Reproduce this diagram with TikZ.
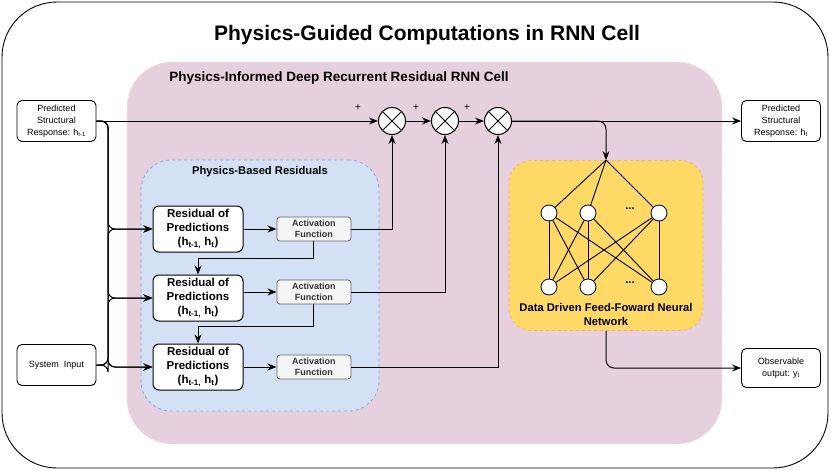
\documentclass[tikz,border=0pt]{standalone}
\usepackage{fontspec}
\setmainfont{Liberation Sans}
\usetikzlibrary{arrows.meta, positioning, backgrounds}
\definecolor{cellPink}{HTML}{E6D0DE}
\definecolor{cellPinkLine}{HTML}{F4E8F0}
\definecolor{resBlue}{HTML}{D4E1F5}
\definecolor{resBlueLine}{HTML}{7EA6E0}
\definecolor{netYellow}{HTML}{FFD966}
\definecolor{netYellowLine}{HTML}{F5AE8C}
\definecolor{actFill}{HTML}{F5F5F5}
\definecolor{actLine}{HTML}{666666}
\definecolor{actText}{HTML}{333333}
\tikzset{
  ioNode/.style={
    draw,
    line width=0.9pt,
    rounded corners=5pt,
    align=center,
    inner sep=1pt,
    minimum width=79pt,
    minimum height=41pt,
    font=\fontsize{9}{12}\selectfont,
    fill=white
  },
  residNode/.style={
    draw,
    line width=1pt,
    rounded corners=6pt,
    align=center,
    inner sep=1pt,
    minimum width=90pt,
    minimum height=46pt,
    font=\fontsize{11.5}{14}\selectfont\bfseries,
    fill=white
  },
  actNode/.style={
    draw=actLine,
    fill=actFill,
    text=actText,
    line width=0.8pt,
    rounded corners=3pt,
    align=center,
    inner sep=1pt,
    minimum width=74pt,
    minimum height=24pt,
    font=\fontsize{9}{11}\selectfont\bfseries
  },
  sumNode/.style={circle, draw, line width=1pt, fill=white, minimum size=27pt, inner sep=0pt},
  neuron/.style={circle, draw, line width=0.8pt, fill=white, minimum size=16pt, inner sep=0pt},
  groupBox/.style={rounded corners=#1, dashed, line width=0.8pt},
  boxTitle/.style={font=\fontsize{13.5}{16}\selectfont\bfseries},
  plusSign/.style={font=\fontsize{10}{10}\selectfont, inner sep=0pt},
  flow/.style={-{Stealth[length=9pt,width=7pt]}, line width=1pt},
  wire/.style={line width=0.9pt}
}

\begin{document}
\begin{tikzpicture}[x=1pt, y=-1pt, node distance=22pt and 33pt]
  \useasboundingbox (0,0) rectangle (831,471);

  % inputs and outputs
  \node[ioNode] (prevResp) at (56.5,121) {Predicted\\Structural\\Response: h\textsubscript{t-1}};
  \node[ioNode] (sysIn) at (56.5,365) {System\ \ Input};
  \node[ioNode] (nextResp) at (781,121) {Predicted\\Structural\\Response: h\textsubscript{t}};
  \node[ioNode, minimum height=39pt] (obsOut) at (781,368) {Observable\\output: y\textsubscript{t}};

  % residual branch
  \node[residNode] (res1) at (198,229) {Residual of\\Predictions\\(h\textsubscript{t-1,} h\textsubscript{t})};
  \node[residNode, below=of res1] (res2) {Residual of\\Predictions\\(h\textsubscript{t-1,} h\textsubscript{t})};
  \node[residNode, below=of res2] (res3) {Residual of\\Predictions\\(h\textsubscript{t-1,} h\textsubscript{t})};
  \node[actNode, right=of res1] (act1) {Activation\\Function};
  \node[actNode, right=of res2, yshift=6pt] (act2) {Activation\\Function};
  \node[actNode, right=of res3] (act3) {Activation\\Function};

  % multipliers
  \node[sumNode] (m1) at (392,121) {};
  \node[sumNode, right=25pt of m1] (m2) {};
  \node[sumNode, right=25pt of m2] (m3) {};
  \foreach \m in {m1,m2,m3}
    \draw[wire] (\m.north east) -- (\m.south west) (\m.north west) -- (\m.south east);
  \node[plusSign] (plus1) at (358,108) {+};
  \node[plusSign] (plus2) at (416,108) {+};
  \node[plusSign] (plus3) at (467,108) {+};

  % feed-forward network
  \node[groupBox=22pt, draw=netYellowLine, fill=netYellow, minimum width=194pt, minimum height=170pt] (nnBox) at (606,245.5) {};
  \node[neuron] (t1) at (549,213) {};
  \node[neuron] (t2) at (588,213) {};
  \node[neuron] (t3) at (659,213) {};
  \node[neuron] (b1) at (549,287) {};
  \node[neuron] (b2) at (588,287) {};
  \node[neuron] (b3) at (659,287) {};
  \node[font=\fontsize{11}{11}\selectfont\bfseries] (dotsTop) at (630,209) {...};
  \node[font=\fontsize{11}{11}\selectfont\bfseries] (dotsBot) at (630,283) {...};
  \node[align=center, font=\fontsize{11.2}{14}\selectfont\bfseries] (nnLabel) at (606,314) {Data Driven Feed-Foward Neural\\Network};
  \foreach \t in {t1,t2,t3}
    \draw[wire] (nnBox.north) -- (\t);
  \foreach \t in {t1,t2,t3}
    \foreach \b in {b1,b2,b3}
      \draw[wire] (\t) -- (\b);

  % main recurrent line
  \draw[flow] (prevResp) -- (m1);
  \draw[flow] (m1) -- (m2);
  \draw[flow] (m2) -- (m3);
  \draw[flow] (m3) -- (nextResp);
  \draw[flow, rounded corners=8pt] (m3.east) -| (nnBox.north);
  \draw[flow, rounded corners=8pt] (nnBox.south) |- (obsOut.west);

  % input bus
  \coordinate (busX) at (108,0);
  \foreach \r in {res1,res2,res3}{
    \draw[flow, rounded corners=7pt] (prevResp.east) -- (prevResp.east -| busX) |- (\r.west);
    \draw[flow, rounded corners=7pt] (sysIn.east) -- (sysIn.east -| busX) |- (\r.west);
  }

  \draw[flow] (res1) -- (act1);
  \draw[flow] (act2.west -| res2.east) -- (act2.west);
  \draw[flow] (res3) -- (act3);
  \draw[flow] (act1.east) -| (m1.south);
  \draw[flow] (act2.east) -| (m2.south);
  \draw[flow] (act3.east) -| (m3.south);
  \draw[flow] (act1.south) -- ++(0,17) -| (res2.north);
  \draw[flow] (act2.south) -- ++(0,22) -| (res3.north);

  \begin{pgfonlayer}{background}
    \node[draw, line width=0.9pt, rounded corners=55pt, fill=white, minimum width=826pt, minimum height=466pt] (frame) at (415,235) {};
    \node[groupBox=45pt, draw=cellPinkLine, fill=cellPink, minimum width=595pt, minimum height=382pt] (cellBox) at (424.5,253) {};
    \node[groupBox=30pt, draw=resBlueLine, fill=resBlue, minimum width=238pt, minimum height=251pt] (resBox) at (260,285.5) {};
  \end{pgfonlayer}

  \node[font=\fontsize{21}{24}\selectfont\bfseries] (title) at (427,35) {Physics-Guided Computations in RNN Cell};
  \node[boxTitle] (cellLabel) at (339,78) {Physics-Informed Deep Recurrent Residual RNN Cell};
  \node[font=\fontsize{11.2}{13}\selectfont\bfseries] (resLabel) at (260,172) {Physics-Based Residuals};
\end{tikzpicture}
\end{document}
